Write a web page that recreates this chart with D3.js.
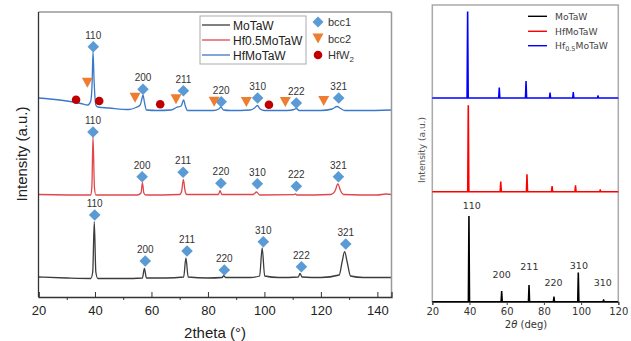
<!DOCTYPE html>
<html><head><meta charset="utf-8">
<script src="https://cdn.jsdelivr.net/npm/d3@7"></script>
<style>body{margin:0;background:#fff}svg{display:block}</style>
</head><body>
<svg id="c" width="631" height="341"></svg>
<script>
// ---------- LEFT PANEL DATA (2theta, intensity a.u. with stacking offset) ----------
const seriesNames = ["MoTaW", "Hf0.5MoTaW", "HfMoTaW"];
const seriesColors = ["#3c3c3c", "#e0474c", "#3a78c9"];
const xTicksLeft = [20, 40, 60, 80, 100, 120, 140];
const moTaW = [[20,20],[30,19],[38.5,18.5],[39.2,25],[39.75,75.3],[40.3,25],[41,18.5],[50,18.5],[56.8,19],[57.5,28.7],[58.2,19],[65,19],[71.4,20],[72.2,39],[73,20],[80,19],[85,19.5],[85.6,21.3],[86.3,19.5],[95,19.5],[98.3,21],[99.2,49],[100.1,21],[105,19.5],[112,20],[112.6,23.7],[113.3,20],[120,19.5],[126.5,22],[127.5,35],[128.4,45.3],[129.3,35],[130.5,21],[135,19.5],[145,19.5]];
const hf05 = [[20,102.5],[38.5,102],[38.9,110],[39.3,160],[39.8,110],[40.3,102],[55,102],[56.3,104],[56.8,114.3],[57.3,104],[58,102],[70,102.5],[70.7,106],[71.3,117.7],[71.9,106],[72.5,102.5],[83.7,102.5],[84.3,106.3],[84.9,102.5],[96,102.5],[97.2,105],[98.3,102],[110.5,102.3],[111,103],[111.5,102],[123.5,102.5],[125,106],[126,113],[127,106],[128,102.5],[140,102],[143,103],[145,102.5]];
const hfMoTaW = [[20,199],[24,198],[30,196],[35,193.5],[37.5,192],[38.5,196],[39.0,215],[39.3,245],[39.7,215],[40.3,192],[41,190],[45,189],[52,187.5],[54.5,189.5],[56,192],[56.6,198],[57.0,202],[57.5,195],[58.2,187],[62,186.5],[67,187],[68.8,189.5],[70.5,191],[71.4,197],[72.0,191],[72.8,186.5],[82,186.5],[83.8,188],[84.6,190],[85.5,187],[88,186.5],[95,187],[96.5,189],[97.5,191.5],[98.5,188],[100,186.5],[108,186.5],[110.5,187.5],[111.3,188.5],[112.3,186.5],[120,186.5],[124,188],[125.8,190.5],[127,188.5],[128.5,186.5],[135,186.5],[145,187]];
const leftSeries = [moTaW, hf05, hfMoTaW];
// bcc1 markers: [2theta, position, label]
const bcc1 = [
 [39.9,82,"110"],[57.8,36,"200"],[72.6,46,"211"],[85.8,27,"220"],[99.6,55.3,"310"],[113.1,30.3,"222"],[128.8,53,"321"],
 [39.3,165,"110"],[56.7,120.3,"200"],[71.2,124.7,"211"],[84.6,113.7,"220"],[97.5,113.3,"310"],[111.3,110.7,"222"],[126.2,120.3,"321"],
 [39.4,250.3,"110"],[57.0,207.7,"200"],[71.3,206.3,"211"],[84.7,195.3,"220"],[97.6,199,"310"],[111.3,194,"222"],[126.3,199,"321"]
];
const bcc2 = [[37.3,214.3],[54.2,199.3],[68.7,197.7],[82.2,195.3],[93.6,195],[107.4,195],[121.0,196]];
const hfw2 = [[33.3,197.3],[41.5,196],[63.1,192.7],[101.6,192.3]];
const markerLegend = ["bcc1", "bcc2", "HfW"];

// ---------- RIGHT PANEL DATA ----------
const rightNames = ["MoTaW", "HfMoTaW", "Hf0.5MoTaW"];
const rightColors = ["#000000", "#ff0000", "#0000ff"];
const rightBase = [0.3, 110.3, 204];
const xTicksRight = [20, 40, 60, 80, 100, 120];
// peaks: [2theta, top]
const rMoTaW = [[39.7,85.3],[57.3,10.3],[72.0,16.3],[85.4,4.7],[98.5,28.7],[112.1,2]];
const rHfMoTaW = [[39.35,196],[56.8,119.7],[70.9,127],[84.4,115.3],[97.0,116],[110.3,112]];
const rHf05 = [[39.0,289.7],[56.0,213.7],[70.4,220.3],[83.3,208.7],[95.8,209.3],[109.1,206]];
const rightPeaks = [rMoTaW, rHfMoTaW, rHf05];
const rightLabels = [[41.2,96.3,"110"],[57.3,28,"200"],[72.2,36,"211"],[85.2,19.3,"220"],[98.8,36.7,"310"],[111.7,19.3,"310"]];

const svg = d3.select("#c");
const AR = "Liberation Sans, Arial, sans-serif";
const DV = "DejaVu Sans, sans-serif";

// ===== LEFT =====
const x1 = d3.scaleLinear().domain([20,145]).range([38.5,391.5]);
const y1 = d3.scaleLinear().domain([0,285]).range([297,12]);
const line1 = d3.line().x(d=>x1(d[0])).y(d=>y1(d[1])).curve(d3.curveMonotoneX);
const gL = svg.append("g");
gL.append("defs").append("clipPath").attr("id","cl").append("rect")
  .attr("x",x1(20)).attr("y",y1(285)).attr("width",x1(145)-x1(20)).attr("height",y1(0)-y1(285));
leftSeries.forEach((s,i)=>{
  gL.append("path").attr("d",line1(s)).attr("fill","none").attr("stroke",seriesColors[i])
    .attr("stroke-width",1.3).attr("clip-path","url(#cl)");
});
// frame
gL.append("line").attr("x1",x1(20)).attr("x2",x1(145)).attr("y1",y1(285)).attr("y2",y1(285)).attr("stroke","#999").attr("stroke-width",1.5);
gL.append("line").attr("x1",x1(145)).attr("x2",x1(145)).attr("y1",y1(285)).attr("y2",y1(0)).attr("stroke","#999").attr("stroke-width",1.5);
gL.append("line").attr("x1",x1(20)).attr("x2",x1(20)).attr("y1",y1(285)).attr("y2",y1(0)).attr("stroke","#333").attr("stroke-width",1.3);
const axB = d3.axisBottom(x1).tickValues(xTicksLeft).tickSize(-5).tickPadding(9).tickFormat(d3.format("d"));
const gax = gL.append("g").attr("transform",`translate(0,${y1(0)})`).call(axB);
gax.select(".domain").attr("stroke","#333").attr("stroke-width",1.3);
gax.selectAll(".tick line").attr("stroke","#333");
gax.selectAll("text").attr("font-family",AR).attr("font-size",13).attr("fill","#222");
const minorL = d3.axisBottom(x1).tickValues([30,50,70,90,110,130]).tickSize(3).tickFormat("");
const gm = gL.append("g").attr("transform",`translate(0,${y1(0)})`).call(minorL);
gm.select(".domain").remove(); gm.selectAll(".tick line").attr("stroke","#333");
gL.append("text").attr("x",215).attr("y",338).attr("text-anchor","middle").attr("font-family",AR)
  .attr("font-size",15).attr("fill","#222").text("2theta (°)");
gL.append("text").attr("transform","translate(27,154) rotate(-90)").attr("text-anchor","middle")
  .attr("font-family",AR).attr("font-size",15).attr("fill","#222").text("Intensity (a.u.)");

// markers
function diamond(g, cx, cy, s){ g.append("path").attr("d",`M${cx},${cy-s}L${cx+s},${cy}L${cx},${cy+s}L${cx-s},${cy}Z`).attr("fill","#5b9bd5"); }
function tri(g, cx, cy){ g.append("path").attr("d",`M${cx-5.5},${cy-5}L${cx+5.5},${cy-5}L${cx},${cy+5}Z`).attr("fill","#ed7d31"); }
function circ(g, cx, cy){ g.append("circle").attr("cx",cx).attr("cy",cy).attr("r",4.3).attr("fill","#c00000"); }
bcc1.forEach(d=>{
  diamond(gL, x1(d[0]), y1(d[1]), 5.8);
  gL.append("text").attr("x",x1(d[0])).attr("y",y1(d[1])-8).attr("text-anchor","middle")
    .attr("font-family",AR).attr("font-size",10).attr("fill","#333").text(d[2]);
});
bcc2.forEach(d=>tri(gL, x1(d[0]), y1(d[1])));
hfw2.forEach(d=>circ(gL, x1(d[0]), y1(d[1])));

// legend (lines)
gL.append("rect").attr("x",200).attr("y",16).attr("width",106).attr("height",48).attr("fill","#fff").attr("stroke","#aaa").attr("stroke-width",1);
seriesNames.forEach((n,i)=>{
  const yy = 25 + i*15;
  gL.append("line").attr("x1",202).attr("x2",230).attr("y1",yy).attr("y2",yy).attr("stroke",seriesColors[i]).attr("stroke-width",1.3);
  gL.append("text").attr("x",233).attr("y",yy+4.5).attr("font-family",AR).attr("font-size",12).attr("fill","#222").text(n);
});
// legend (markers)
diamond(gL, 318, 22, 5.5);
tri(gL, 318, 38.5);
circ(gL, 318, 55);
markerLegend.forEach((n,i)=>{
  const t = gL.append("text").attr("x",328).attr("y",[26,42.5,59][i]).attr("font-family",AR).attr("font-size",11).attr("fill","#333").text(n);
  if(i===2) t.append("tspan").attr("font-size",8).attr("dy",3).text("2");
});

// ===== RIGHT =====
const x2 = d3.scaleLinear().domain([20,120]).range([432.3,618.3]);
const y2 = d3.scaleLinear().domain([0,297]).range([302,5]);
const line2 = d3.line().x(d=>x2(d[0])).y(d=>y2(d[1]));
const gR = svg.append("g");
gR.append("rect").attr("x",x2(20)).attr("y",y2(297)).attr("width",x2(120)-x2(20)).attr("height",y2(0)-y2(297))
  .attr("fill","none").attr("stroke","#aaa").attr("stroke-width",1.5);
rightPeaks.forEach((pk,i)=>{
  const b = rightBase[i];
  const pts = [[20,b]];
  pk.forEach(p=>{ pts.push([p[0]-0.35,b]); pts.push([p[0]-0.05,p[1]]); pts.push([p[0]+0.05,p[1]]); pts.push([p[0]+0.35,b]); });
  pts.push([120,b]);
  gR.append("path").attr("d",line2(pts)).attr("fill","none").attr("stroke",rightColors[i]).attr("stroke-width",1.4);
});
const axR = d3.axisBottom(x2).tickValues(xTicksRight).tickSize(3).tickPadding(3).tickFormat(d3.format("d"));
const gaxR = gR.append("g").attr("transform",`translate(0,${y2(0)})`).call(axR);
gaxR.select(".domain").attr("stroke","#444").attr("stroke-width",1.2);
gaxR.selectAll(".tick line").attr("stroke","#444");
gaxR.selectAll("text").attr("font-family",DV).attr("font-size",10).attr("fill","#333");
const tx = gR.append("text").attr("x",526).attr("y",328).attr("text-anchor","middle").attr("font-family",DV).attr("font-size",10).attr("fill","#333");
tx.append("tspan").text("2");
tx.append("tspan").attr("font-style","italic").text("θ");
tx.append("tspan").text(" (deg)");
gR.append("text").attr("transform","translate(425,150) rotate(-90)").attr("text-anchor","middle")
  .attr("font-family",DV).attr("font-size",9).attr("fill","#555").text("Intensity (a.u.)");
rightLabels.forEach(d=>{
  gR.append("text").attr("x",x2(d[0])).attr("y",y2(d[1])+3.5).attr("text-anchor","middle")
    .attr("font-family",DV).attr("font-size",9.5).attr("fill","#333").text(d[2]);
});
rightNames.forEach((n,i)=>{
  const yy = [16.3,31.3,45.7][i];
  gR.append("line").attr("x1",528).attr("x2",547).attr("y1",yy).attr("y2",yy).attr("stroke",rightColors[i]).attr("stroke-width",1.4);
  const t = gR.append("text").attr("x",555).attr("y",yy+3.3).attr("font-family",DV).attr("font-size",9.2).attr("fill","#444");
  if(n==="Hf0.5MoTaW"){ t.append("tspan").text("Hf"); t.append("tspan").attr("font-size",6.5).attr("dy",2).text("0.5"); t.append("tspan").attr("dy",-2).text("MoTaW"); }
  else t.text(n);
});
</script>
</body></html>
